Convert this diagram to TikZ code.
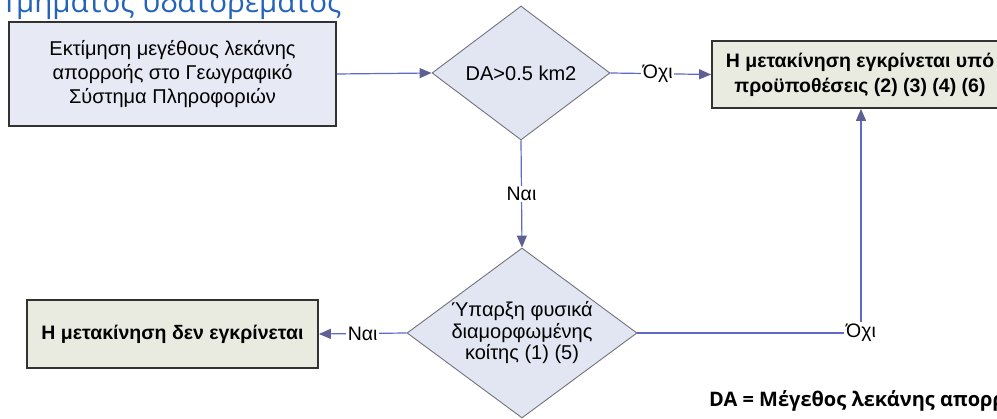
\documentclass[tikz,border=0pt]{standalone}
\usepackage{fontspec}
\setmainfont{Liberation Sans}
\newfontfamily\humanist{Open Sans}
\usetikzlibrary{shapes.geometric,arrows.meta}
\definecolor{boxfill}{RGB}{231,233,245}
\definecolor{dmdfill}{RGB}{226,229,242}
\definecolor{endfill}{RGB}{234,235,224}
\definecolor{boxline}{RGB}{50,50,50}
\definecolor{dmdline}{RGB}{115,115,125}
\definecolor{conn}{RGB}{95,105,200}
\definecolor{tipc}{RGB}{95,95,150}
\definecolor{headc}{RGB}{35,100,185}
\tikzset{
  stepbox/.style={draw=boxline, line width=1.6pt, fill=boxfill, rectangle, inner sep=0pt, align=center,
    font=\fontsize{20}{24}\selectfont},
  endbox/.style={draw=boxline, line width=1.8pt, fill=endfill, rectangle, inner sep=0pt, align=center,
    font=\fontsize{19.5}{25}\selectfont\bfseries},
  decide/.style={draw=dmdline, line width=0.9pt, fill=dmdfill, diamond, inner sep=0pt},
  dtext/.style={align=center, font=\fontsize{20}{21.5}\selectfont},
  lbl/.style={fill=white, inner sep=1.5pt, font=\fontsize{19.5}{22}\selectfont},
  conline/.style={draw=conn, line width=1.2pt},
  arr/.style={conline, -{Triangle[length=12pt,width=10pt,color=tipc]}},
}
\begin{document}
\begin{tikzpicture}[x=1pt,y=-1pt]
\useasboundingbox (0,0) rectangle (997,419);
\clip (0,0) rectangle (997,419);
\fill[white] (0,0) rectangle (997,419);

% heading (cut off at top)
\node[anchor=base west, inner sep=0pt, text=headc, font=\humanist\fontsize{29.5}{32}\selectfont] (head) at (1,13) {Τμήματος υδατορέματος};

% nodes
\node[stepbox, minimum width=327pt, minimum height=104pt] (est) at (172.5,74)
  {Εκτίμηση μεγέθους λεκάνης\\απορροής στο Γεωγραφικό\\Σύστημα Πληροφοριών};
\node[decide, minimum width=178pt, minimum height=134pt] (d1) at (521,73) {};
\node[dtext] (d1t) at (521,73) {DA>0.5 km2};
\node[endbox, minimum width=296pt, minimum height=67pt] (yes) at (860,74.5)
  {Η μετακίνηση εγκρίνεται υπό\\προϋποθέσεις (2) (3) (4) (6)};
\node[decide, minimum width=230pt, minimum height=170pt] (d2) at (522,333) {};
\node[dtext] (d2t) at (522,333) {Ύπαρξη φυσικά\\διαμορφωμένης\\κοίτης (1) (5)};
\node[endbox, minimum width=291pt, minimum height=68pt] (no) at (172.5,334)
  {Η μετακίνηση δεν εγκρίνεται};

% connectors
\draw[arr] (est.east) -- (d1.west);
\draw[arr] (d1.east) -- node[lbl, pos=0.47] (o1) {Όχι} (yes.west);
\draw[arr] (d1.south) -- node[lbl] (n1) {Ναι} (d2.north);
\draw[arr] (d2.west) -- node[lbl] (n2) {Ναι} (no.east);
\node[lbl] (o2) at (861,333) {Όχι};
\draw[conline] (d2.east) -- (o2.west);
\draw[arr] (o2.north) -- (o2.north |- yes.south);

% footnote
\node[anchor=base west, inner sep=0pt, font=\humanist\fontsize{20}{24}\selectfont\bfseries] (foot) at (709,407)
  {DA = Μέγεθος λεκάνης απορροής};
\end{tikzpicture}
\end{document}
